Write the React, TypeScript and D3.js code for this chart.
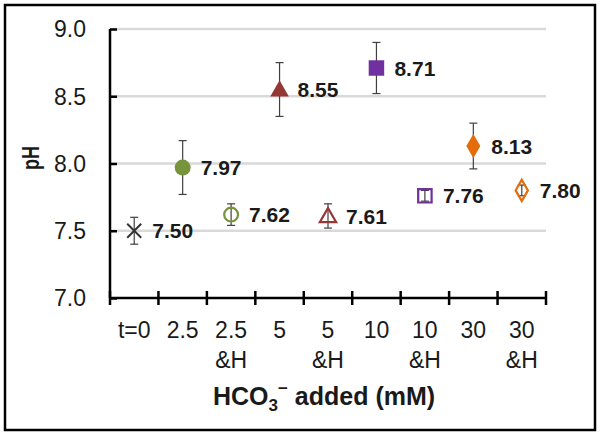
import * as d3 from "d3";
import { useEffect, useRef } from "react";

// categories and values
const categories = ["t=0", "2.5", "2.5&H", "5", "5&H", "10", "10&H", "30", "30&H"];
const phValues = [7.5, 7.97, 7.62, 8.55, 7.61, 8.71, 7.76, 8.13, 7.8];
const phErrors = [0.1, 0.2, 0.08, 0.2, 0.09, 0.19, 0.04, 0.17, 0.04];
const markerShapes = ["cross", "circle", "circle", "triangle", "triangle", "square", "square", "diamond", "diamond"];
const markerFilled = [true, true, false, true, false, true, false, true, false];
const markerColors = ["#333333", "#77933c", "#77933c", "#953735", "#953735", "#7030a0", "#7030a0", "#e46c0a", "#e46c0a"];
const yTicks = [7.0, 7.5, 8.0, 8.5, 9.0];

const FONT = "'Liberation Sans', Arial, sans-serif";

const App = () => {
    const svgRef = useRef<SVGSVGElement | null>(null);

    useEffect(() => {
        if (!svgRef.current) return;
        const width = 600;
        const height = 436;
        const margin = { top: 29, right: 54, bottom: 138, left: 110 };

        const svg = d3.select(svgRef.current);
        svg.selectAll("*").remove();

        svg.append("rect")
            .attr("x", 5).attr("y", 5)
            .attr("width", 590).attr("height", 425)
            .attr("fill", "white")
            .attr("stroke", "black")
            .attr("stroke-width", 2.5);

        const x = d3.scaleBand<string>()
            .domain(categories)
            .range([margin.left, width - margin.right])
            .padding(0);

        const y = d3.scaleLinear()
            .domain([7, 9])
            .range([height - margin.bottom, margin.top]);

        // gridlines
        svg.append("g")
            .selectAll("line")
            .data(yTicks.slice(1))
            .join("line")
            .attr("x1", margin.left)
            .attr("x2", width - margin.right)
            .attr("y1", d => y(d))
            .attr("y2", d => y(d))
            .attr("stroke", "#d9d9d9")
            .attr("stroke-width", 2.5);

        // y axis, ticks pointing inward
        const yAxis = svg.append("g")
            .attr("transform", `translate(${margin.left},0)`)
            .call(d3.axisRight(y).tickValues(yTicks).tickSize(7).tickFormat(() => ""));
        yAxis.select(".domain").attr("stroke", "black").attr("stroke-width", 2.5).attr("d", `M0,${y(9)}V${y(7)}`);
        yAxis.selectAll(".tick line").attr("stroke", "black").attr("stroke-width", 2.5);

        svg.append("g")
            .selectAll("text")
            .data(yTicks)
            .join("text")
            .attr("x", 86)
            .attr("y", d => y(d))
            .attr("dy", "0.36em")
            .attr("text-anchor", "end")
            .attr("font-family", FONT)
            .attr("font-size", 23)
            .attr("fill", "#1a1a1a")
            .text(d => d.toFixed(1));

        // x axis with ticks crossing the line
        const y0 = y(7);
        const bounds = d3.range(categories.length + 1).map(i => margin.left + i * x.bandwidth());
        svg.append("line")
            .attr("x1", margin.left).attr("x2", width - margin.right)
            .attr("y1", y0).attr("y2", y0)
            .attr("stroke", "black").attr("stroke-width", 2.5);
        svg.append("g")
            .selectAll("line")
            .data(bounds)
            .join("line")
            .attr("x1", d => d).attr("x2", d => d)
            .attr("y1", y0 - 7).attr("y2", y0 + 7)
            .attr("stroke", "black").attr("stroke-width", 2.5);

        const xLabels = svg.append("g")
            .selectAll("text")
            .data(categories)
            .join("text")
            .attr("x", d => x(d)! + x.bandwidth() / 2)
            .attr("y", 338)
            .attr("text-anchor", "middle")
            .attr("font-family", FONT)
            .attr("font-size", 23)
            .attr("fill", "#1a1a1a");
        xLabels.each(function (d) {
            const parts = d.split("&");
            const t = d3.select(this);
            const cx = x(d)! + x.bandwidth() / 2;
            t.append("tspan").attr("x", cx).text(parts[0]);
            if (parts.length > 1) {
                t.append("tspan").attr("x", cx).attr("dy", 30).text("&" + parts[1]);
            }
        });

        // axis titles
        const xt = svg.append("text")
            .attr("x", 324)
            .attr("y", 405)
            .attr("text-anchor", "middle")
            .attr("font-family", FONT)
            .attr("font-size", 25)
            .attr("font-weight", "bold")
            .attr("fill", "#1a1a1a");
        xt.append("tspan").text("HCO");
        xt.append("tspan").attr("font-size", 17).attr("dy", 6).text("3");
        xt.append("tspan").attr("font-size", 17).attr("dy", -17).text("\u2212");
        xt.append("tspan").attr("dy", 11).text(" added (mM)");

        svg.append("text")
            .attr("transform", `translate(38.5,158) rotate(-90)`)
            .attr("text-anchor", "middle")
            .attr("font-family", FONT)
            .attr("font-size", 23)
            .attr("font-weight", "bold")
            .attr("fill", "#1a1a1a")
            .attr("textLength", 24)
            .attr("lengthAdjust", "spacingAndGlyphs")
            .text("pH");

        const cx = (i: number) => x(categories[i])! + x.bandwidth() / 2;

        // error bars
        const eb = svg.append("g").attr("stroke", "#404040").attr("stroke-width", 1.2);
        phValues.forEach((v, i) => {
            const px = cx(i);
            const top = y(v + phErrors[i]);
            const bot = y(v - phErrors[i]);
            eb.append("line").attr("x1", px).attr("x2", px).attr("y1", top).attr("y2", bot);
            eb.append("line").attr("x1", px - 4).attr("x2", px + 4).attr("y1", top).attr("y2", top);
            eb.append("line").attr("x1", px - 4).attr("x2", px + 4).attr("y1", bot).attr("y2", bot);
        });

        // markers
        const symbolFor: Record<string, d3.SymbolType> = {
            circle: d3.symbolCircle,
            triangle: d3.symbolTriangle,
            square: d3.symbolSquare,
            diamond: d3.symbolDiamond,
        };
        phValues.forEach((v, i) => {
            const px = cx(i);
            const py = y(v);
            const shape = markerShapes[i];
            const col = markerColors[i];
            if (shape === "cross") {
                const s = 7;
                svg.append("path")
                    .attr("d", `M${px - s},${py - s}L${px + s},${py + s}M${px - s},${py + s}L${px + s},${py - s}`)
                    .attr("stroke", col)
                    .attr("stroke-width", 2);
                return;
            }
            const filled = markerFilled[i];
            const sizes: Record<string, number> = filled
                ? { circle: 200, triangle: 150, square: 240, diamond: 170 }
                : { circle: 150, triangle: 115, square: 180, diamond: 130 };
            svg.append("path")
                .attr("d", d3.symbol(symbolFor[shape], sizes[shape])()!)
                .attr("transform", `translate(${px},${py + (shape === "triangle" ? 1.5 : 0)})`)
                .attr("fill", filled ? col : "none")
                .attr("stroke", col)
                .attr("stroke-width", filled ? 0 : 2.2);
        });

        // value labels
        svg.append("g")
            .selectAll("text")
            .data(phValues)
            .join("text")
            .attr("x", (d, i) => cx(i) + 18)
            .attr("y", d => y(d))
            .attr("dy", "0.36em")
            .attr("font-family", FONT)
            .attr("font-size", 21)
            .attr("font-weight", "bold")
            .attr("fill", "#1a1a1a")
            .text(d => d.toFixed(2));
    }, []);

    return <svg ref={svgRef} width={600} height={436} style={{ display: "block", position: "absolute", left: 0, top: 0 }}></svg>;
};

export default App;
